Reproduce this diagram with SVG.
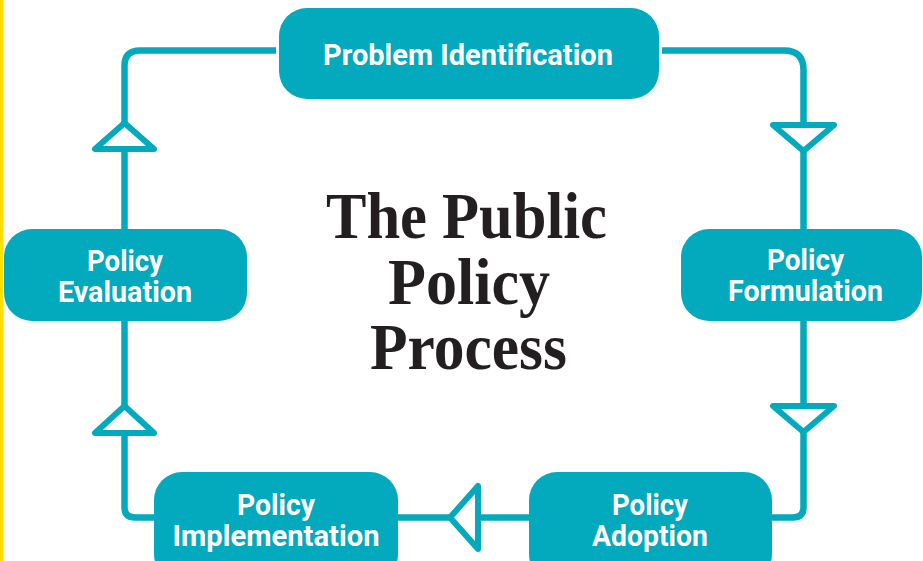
<svg xmlns="http://www.w3.org/2000/svg" width="923" height="561" viewBox="0 0 923 561">
  <style>
    .box { fill: #03A9BC; }
    .lbl { font-family: Roboto, "Liberation Sans", sans-serif; font-weight: 700; font-size: 29px; fill: #ffffff; text-anchor: middle; }
    .title { font-family: "Liberation Serif", "DejaVu Serif", serif; font-weight: 700; font-size: 66px; fill: #231f20; text-anchor: middle; }
    .wire { fill: none; stroke: #03A9BC; stroke-width: 6.5; }
    .tri { fill: #ffffff; stroke: #03A9BC; stroke-width: 6; stroke-linejoin: round; }
  </style>
  <rect x="0" y="0" width="923" height="561" fill="#ffffff"/>
  <rect x="0" y="0" width="3.5" height="561" fill="#FFE000"/>

  <g id="connectors">
    <path class="wire" d="M276 50.5 H140 Q124.5 50.5 124.5 66 V229"/>
    <polygon class="tri" points="124.5,123 95,149 154,149"/>
    <path class="wire" d="M662 50.5 H784 Q803.5 50.5 803.5 70 V229"/>
    <polygon class="tri" points="773,125 834,125 803.5,151"/>
    <path class="wire" d="M803.5 321 V507 Q803.5 517.5 793 517.5 H772"/>
    <polygon class="tri" points="773,406 834,406 803.5,432"/>
    <path class="wire" d="M529 517.5 H398"/>
    <polygon class="tri" points="450,517.5 478,486 478,549"/>
    <path class="wire" d="M154 517.5 H135 Q124.5 517.5 124.5 507 V321"/>
    <polygon class="tri" points="124.5,406 95,433 154,433"/>
  </g>

  <g id="problem-identification">
    <rect class="box" x="279" y="8" width="380" height="91" rx="28"/>
    <text class="lbl" x="468" y="65" textLength="290" lengthAdjust="spacingAndGlyphs">Problem Identification</text>
  </g>
  <g id="policy-formulation">
    <rect class="box" x="681" y="229" width="241" height="92" rx="28"/>
    <text class="lbl" x="805.5" y="270" textLength="77" lengthAdjust="spacingAndGlyphs">Policy</text>
    <text class="lbl" x="805.5" y="301" textLength="155" lengthAdjust="spacingAndGlyphs">Formulation</text>
  </g>
  <g id="policy-adoption">
    <rect class="box" x="529" y="472" width="243" height="110" rx="28"/>
    <text class="lbl" x="650" y="515" textLength="76" lengthAdjust="spacingAndGlyphs">Policy</text>
    <text class="lbl" x="650" y="546" textLength="116" lengthAdjust="spacingAndGlyphs">Adoption</text>
  </g>
  <g id="policy-implementation">
    <rect class="box" x="154" y="472" width="244" height="110" rx="28"/>
    <text class="lbl" x="276" y="515" textLength="78" lengthAdjust="spacingAndGlyphs">Policy</text>
    <text class="lbl" x="276" y="546" textLength="207" lengthAdjust="spacingAndGlyphs">Implementation</text>
  </g>
  <g id="policy-evaluation">
    <rect class="box" x="4" y="229" width="243" height="92" rx="28"/>
    <text class="lbl" x="125" y="271" textLength="76" lengthAdjust="spacingAndGlyphs">Policy</text>
    <text class="lbl" x="125" y="302" textLength="134" lengthAdjust="spacingAndGlyphs">Evaluation</text>
  </g>

  <g id="title">
    <text class="title" x="466.5" y="238" textLength="281" lengthAdjust="spacingAndGlyphs">The Public</text>
    <text class="title" x="469" y="304" textLength="162" lengthAdjust="spacingAndGlyphs">Policy</text>
    <text class="title" x="468.5" y="369" textLength="197" lengthAdjust="spacingAndGlyphs">Process</text>
  </g>
</svg>
